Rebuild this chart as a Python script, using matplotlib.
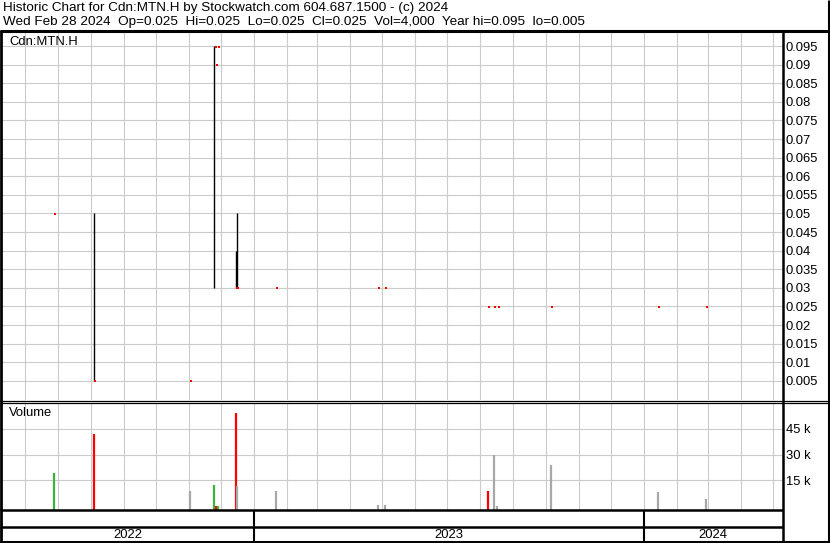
import matplotlib
matplotlib.use("Agg")
import matplotlib.pyplot as plt
import matplotlib.dates as mdates
import pandas as pd
import numpy as np

# ---------------- data ----------------
dates = ['2022-06-28', '2022-08-04', '2022-11-02', '2022-11-25', '2022-11-26',
         '2022-11-28', '2022-12-15', '2022-12-16', '2023-01-22', '2023-04-27',
         '2023-05-04', '2023-08-08', '2023-08-14', '2023-08-17', '2023-10-06',
         '2024-01-14', '2024-02-28']
high = [0.05, 0.05, 0.005, 0.095, 0.09, 0.095, 0.04, 0.05, 0.03, 0.03,
        0.03, 0.025, 0.025, 0.025, 0.025, 0.025, 0.025]
low = [0.05, 0.005, 0.005, 0.03, 0.09, 0.095, 0.03, 0.03, 0.03, 0.03,
       0.03, 0.025, 0.025, 0.025, 0.025, 0.025, 0.025]
close = [0.05, 0.005, 0.005, 0.095, 0.09, 0.095, 0.03, 0.03, 0.03, 0.03,
         0.03, 0.025, 0.025, 0.025, 0.025, 0.025, 0.025]
volume = [19500, 42000, 9000, 12400, 300, 300, 54300, 11800, 9000, 750,
          750, 9000, 29800, 300, 24000, 8300, 4000]

price_ticks = [0.005, 0.01, 0.015, 0.02, 0.025, 0.03, 0.035, 0.04, 0.045, 0.05,
               0.055, 0.06, 0.065, 0.07, 0.075, 0.08, 0.085, 0.09, 0.095]
volume_ticks = [15000, 30000, 45000]
volume_tick_labels = ['15 k', '30 k', '45 k']
years = ['2022', '2023', '2024']

title_line1 = "Historic Chart for Cdn:MTN.H by Stockwatch.com 604.687.1500 - (c) 2024"
title_line2 = ("Wed Feb 28 2024  Op=0.025  Hi=0.025  Lo=0.025  Cl=0.025  "
               "Vol=4,000  Year hi=0.095  lo=0.005")

# ---------------- setup ----------------
plt.rcParams['font.family'] = ['Liberation Sans', 'DejaVu Sans']
W, H = 830, 543
fig = plt.figure(figsize=(W / 100, H / 100), dpi=100)
fig.patch.set_facecolor('white')

def fx(px):
    return px / W

def fy(py):
    return 1 - py / H

d = pd.to_datetime(dates)
xd = mdates.date2num(d)
xmin = mdates.date2num(pd.Timestamp('2022-05-10'))
xmax = mdates.date2num(pd.Timestamp('2024-05-09'))
month_starts = mdates.date2num(pd.date_range('2022-06-01', '2024-05-01', freq='MS'))
one_day = 1.0

GRID = '#cbcbcb'
FS = 9.4
FS_HEAD = 9.7

# price axes
px_l, px_r = 2, 781.5
ax_p = fig.add_axes([fx(px_l), fy(400), fx(px_r - px_l), (400 - 32) / H])
ax_p.set_xlim(xmin, xmax)
ax_p.set_ylim(-0.000135, 0.09905 - (33 - 32) * 0.00027)
for t in price_ticks:
    ax_p.axhline(t, color=GRID, lw=0.8, zorder=0)
for m in month_starts:
    ax_p.axvline(m, color=GRID, lw=0.8, zorder=0)
ax_p.vlines(xd, low, high, color='black', lw=1.0, zorder=3)
ax_p.plot(xd + one_day, np.array(close) - 0.00012, linestyle='none', marker='s',
          markersize=2.1, color='#ff0000', markeredgewidth=0, zorder=4)
ax_p.yaxis.tick_right()
ax_p.set_yticks(price_ticks)
ax_p.set_yticklabels([('%g' % t) for t in price_ticks])
ax_p.tick_params(axis='y', length=0, pad=3, labelsize=FS)
ax_p.set_xticks([])
for s in ax_p.spines.values():
    s.set_visible(False)
fig.text(fx(9), fy(42), 'Cdn:MTN.H', fontsize=FS, va='center', ha='left')

# volume axes
ax_v = fig.add_axes([fx(px_l), fy(509.5), fx(px_r - px_l), (509.5 - 402.5) / H])
ax_v.set_xlim(xmin, xmax)
k = 1.7233 / 1000.0  # px per share
zero_px = 506.3
vbot = -(509.5 - zero_px) / k
vtop = (zero_px - 402.5) / k
ax_v.set_ylim(vbot, vtop)
for t in volume_ticks:
    ax_v.axhline(t, color=GRID, lw=0.8, zorder=0)
for m in month_starts:
    ax_v.axvline(m, color=GRID, lw=0.8, zorder=0)
colors = []
for i, c in enumerate(close):
    if i == 0 or c > close[i - 1]:
        colors.append('#3cb43c')
    elif c < close[i - 1]:
        colors.append('#ff0000')
    else:
        colors.append('#a8a8a8')
ax_v.vlines(xd, vbot, volume, colors=colors, lw=1.6, zorder=3)
ax_v.yaxis.tick_right()
ax_v.set_yticks(volume_ticks)
ax_v.set_yticklabels(volume_tick_labels)
ax_v.tick_params(axis='y', length=0, pad=3, labelsize=FS)
ax_v.set_xticks([])
for s in ax_v.spines.values():
    s.set_visible(False)
fig.text(fx(9), fy(413), 'Volume', fontsize=FS, va='center', ha='left')

# year band labels
year_edges = [mdates.date2num(pd.Timestamp(y)) for y in ['2023-01-01', '2024-01-01']]
bounds = [xmin] + year_edges + [xmax]

def xdata_to_px(xv):
    return px_l + (xv - xmin) / (xmax - xmin) * (px_r - px_l)

for i, y in enumerate(years):
    cx = (xdata_to_px(bounds[i]) + xdata_to_px(bounds[i + 1])) / 2
    fig.text(fx(cx), fy(535), y, fontsize=FS, ha='center', va='center')

# header
fig.text(fx(3), fy(8), title_line1, fontsize=FS_HEAD, ha='left', va='center')
fig.text(fx(3), fy(22), title_line2, fontsize=FS_HEAD, ha='left', va='center')

# frame lines (overlay in pixel coords)
ov = fig.add_axes([0, 0, 1, 1], facecolor='none')
ov.set_xlim(0, W)
ov.set_ylim(H, 0)
ov.axis('off')
L = dict(color='black', solid_capstyle='butt')
ov.plot([0, W], [31, 31], lw=2.2, **L)                # top of price panel
ov.plot([1, 1], [30, H], lw=2.0, **L)                 # left border
ov.plot([W - 1.2, W - 1.2], [0, H], lw=2.2, **L)      # right border
ov.plot([782.5, 782.5], [30, 541], lw=1.8, **L)       # axis column
ov.plot([0, W], [400.5, 400.5], lw=0.9, **L)          # double separator
ov.plot([0, W], [402.5, 402.5], lw=0.9, **L)
ov.plot([0, 782.5], [510, 510], lw=1.8, **L)
ov.plot([0, 782.5], [527, 527], lw=1.8, **L)
ov.plot([0, W], [541.8, 541.8], lw=2.2, **L)          # bottom border
for ye in year_edges:
    xp = xdata_to_px(ye)
    ov.plot([xp, xp], [510, 541], lw=1.5, **L)

fig.savefig('out.png', dpi=100, facecolor='white')
